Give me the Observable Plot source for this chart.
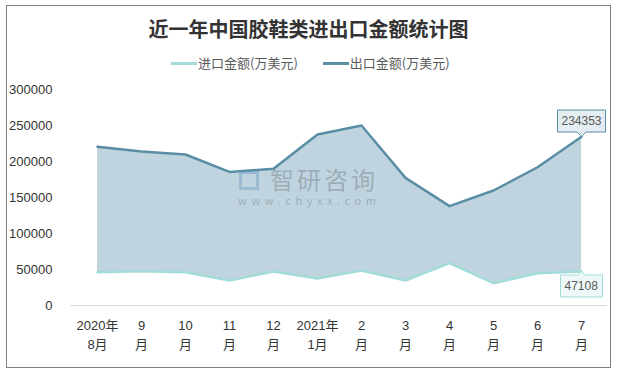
<!DOCTYPE html>
<html><head><meta charset="utf-8">
<script src="https://cdn.jsdelivr.net/npm/d3@7"></script>
<script src="https://cdn.jsdelivr.net/npm/@observablehq/plot@0.6"></script>
<style>
body{margin:0;background:#fff;font-family:"Liberation Sans","Noto Sans CJK SC",sans-serif}
#wrap{position:relative;width:617px;height:373px;overflow:hidden;background:#fff}
#frame{position:absolute;left:6px;top:5px;width:603px;height:361px;border:1px solid #808080;box-sizing:content-box}
#title{position:absolute;top:15px;left:0;width:617px;text-align:center;font-size:20px;font-weight:bold;color:#333;font-family:"Noto Sans CJK SC",sans-serif;line-height:28px}
#legend{position:absolute;top:54px;left:171px;display:flex;align-items:center;font-size:13px;color:#595959;font-family:"Noto Sans CJK SC",sans-serif;line-height:18px}
#legend .sw{display:inline-block;width:26px;height:3px;margin-right:1px}
#legend .it{display:flex;align-items:center;margin-right:25px}
#chart{position:absolute;left:0;top:80px}
#wm{position:absolute;left:238px;top:165px;color:rgba(110,125,135,0.45);font-family:"Noto Sans CJK SC",sans-serif;white-space:nowrap}
#wm .t{font-size:24px;line-height:28px;padding-left:32px;letter-spacing:3px}
#wm .u{font-size:11px;letter-spacing:4.6px;line-height:12px;margin-top:1px}
#wm .logo{position:absolute;left:1px;top:6px;width:20px;height:19px;border:3px solid rgba(90,140,190,0.35);box-sizing:border-box}
g[aria-label="tip"] text{fill:#595959}
</style></head>
<body>
<div id="wrap">
  <div id="frame"></div>
  <div id="title"></div>
  <div id="legend"></div>
  <div id="chart"></div>
  <div id="wm"><div class="logo"></div><div class="t">智研咨询</div><div class="u">www.chyxx.com</div></div>
</div>
<script>
const title = "近一年中国胶鞋类进出口金额统计图";
const seriesNames = ["进口金额(万美元)", "出口金额(万美元)"];
const seriesColors = ["#a3dbd9", "#5a8ea4"];
const months = ["2020年\n8月", "9\n月", "10\n月", "11\n月", "12\n月", "2021年\n1月", "2\n月", "3\n月", "4\n月", "5\n月", "6\n月", "7\n月"];
const imports = [46300, 47700, 46300, 34700, 47200, 37500, 48600, 34700, 58800, 31000, 44900, 47108];
const exports_ = [220500, 214000, 209700, 185500, 190000, 237500, 250000, 177300, 138000, 159700, 192000, 234353];
const yTicks = [0, 50000, 100000, 150000, 200000, 250000, 300000];

document.getElementById("title").textContent = title;
const lg = document.getElementById("legend");
seriesNames.forEach((n, i) => {
  const it = document.createElement("div"); it.className = "it";
  const sw = document.createElement("span"); sw.className = "sw"; sw.style.background = seriesColors[i];
  const tx = document.createElement("span"); tx.textContent = n;
  it.append(sw, tx); lg.append(it);
});

const data = months.map((m, i) => ({m, imp: imports[i], exp: exports_[i]}));
const last = data[data.length - 1];

const chart = Plot.plot({
  width: 617, height: 290,
  marginTop: 9, marginBottom: 65, marginLeft: 70, marginRight: 10,
  style: {fontFamily: '"Liberation Sans","Noto Sans CJK SC",sans-serif', fontSize: "13px", color: "#333", background: "transparent"},
  x: {type: "point", domain: months, padding: 0.5, label: null},
  y: {domain: [0, 300000], label: null},
  marks: [
    Plot.areaY(data, {x: "m", y1: "imp", y2: "exp", fill: "#bfd4de"}),
    Plot.ruleY([0], {stroke: "#d9d9d9", strokeWidth: 1}),
    Plot.lineY(data, {x: "m", y: "exp", stroke: seriesColors[1], strokeWidth: 2.5}),
    Plot.lineY(data, {x: "m", y: "imp", stroke: seriesColors[0], strokeWidth: 2.5}),
    Plot.axisY({ticks: yTicks, tickSize: 0, tickPadding: 18, tickFormat: d => String(d), fontSize: 13, fill: "#333", label: null}),
    Plot.axisX({tickSize: 0, tickPadding: 11, lineHeight: 1.45, fontSize: 13, fill: "#333", label: null}),
    Plot.tip([last], {x: "m", y: "exp", title: d => String(d.exp), anchor: "bottom", fill: "#e4edf1", stroke: seriesColors[1], pointerSize: 9, fontSize: 12, textPadding: 4, pathFilter: "none"}),
    Plot.tip([last], {x: "m", y: "imp", title: d => String(d.imp), anchor: "top", fill: "#eef8f8", stroke: seriesColors[0], pointerSize: 7, fontSize: 12, textPadding: 4, pathFilter: "none"})
  ]
});
document.getElementById("chart").append(chart);
</script>
</body></html>
